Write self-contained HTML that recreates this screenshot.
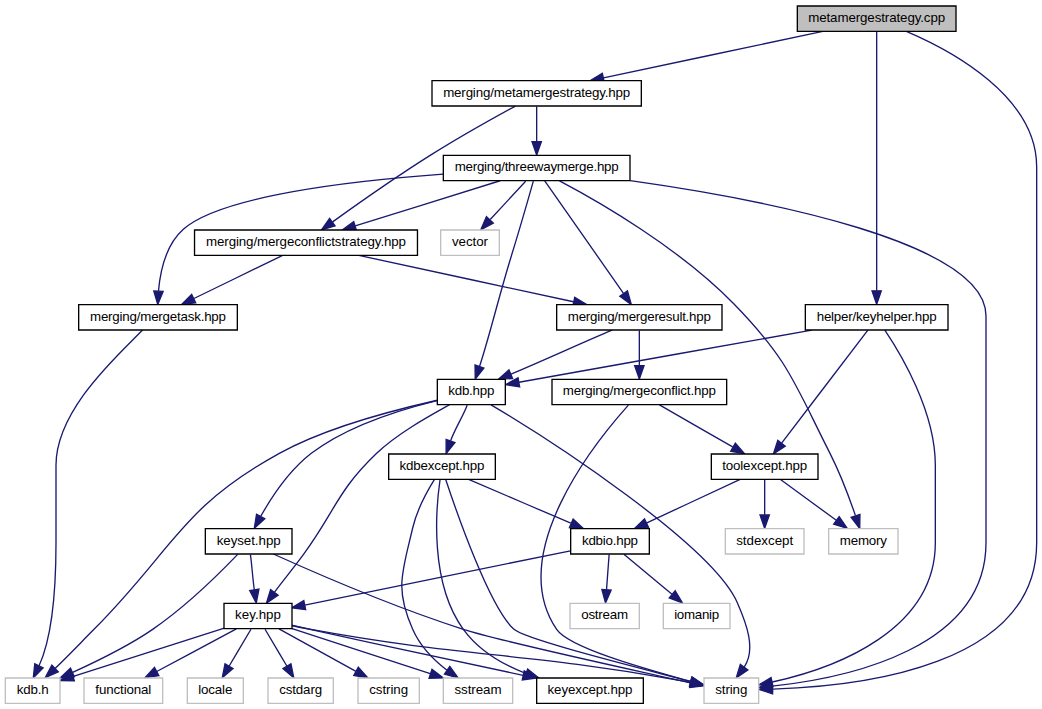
<!DOCTYPE html>
<html lang="en">
<head>
<meta charset="utf-8">
<title>metamergestrategy.cpp include dependency graph</title>
<style>
html,body{margin:0;padding:0;background:#fff}
body{width:1042px;height:709px;overflow:hidden}
svg{display:block}
svg text{font-family:"Liberation Sans",sans-serif;font-size:10px;fill:#000;text-anchor:middle}
.e path{fill:none;stroke:#191970;stroke-width:1}
.e polygon{fill:#191970;stroke:#191970;stroke-width:1}
.n polygon{stroke-width:1}
</style>
</head>
<body>
<svg width="1042" height="709" viewBox="0 0 781.5 531.75">
<rect x="0" y="0" width="781.5" height="531.75" fill="#ffffff"/>
<g transform="translate(4 528)">
<g class="e"><path d="M675.79,-504.5C710.49,-489.63 773.5,-455.43 773.5,-403 773.5,-403 773.5,-403 773.5,-121 773.5,-28.25 641.57,-13.22 575.6,-11.13"/><polygon points="575.47,-7.63 565.39,-10.89 575.3,-14.63"/></g>
<g class="e"><path d="M653.5,-504.3C653.5,-471.63 653.5,-355.87 653.5,-309.96"/><polygon points="657,-309.88 653.5,-299.88 650,-309.88"/></g>
<g class="e"><path d="M613.09,-504.44C568.52,-495 496.73,-479.8 448.61,-469.61"/><polygon points="449.22,-466.16 438.72,-467.52 447.77,-473.01"/></g>
<g class="e"><path d="M659.62,-280.35C671.71,-262.38 697.5,-219.31 697.5,-179 697.5,-179 697.5,-179 697.5,-121 697.5,-55.77 623.97,-27.22 575.24,-16.51"/><polygon points="575.73,-13.04 565.22,-14.44 574.3,-19.89"/></g>
<g class="e"><path d="M604.85,-280.44C542.91,-269.55 440.32,-250.98 385.27,-241.29"/><polygon points="385.74,-237.82 375.28,-239.54 384.53,-244.71"/></g>
<g class="e"><path d="M646.91,-280.37C632.98,-262.14 600.37,-219.43 582.23,-195.68"/><polygon points="584.91,-193.41 576.06,-187.59 579.35,-197.66"/></g>
<g class="e"><path d="M364.28,-224.36C408.24,-198.3 529.87,-119.53 549,-76 556.08,-59.89 563.04,-40.98 554.15,-27.72"/><polygon points="556.91,-25.56 548.19,-19.54 551.26,-29.69"/></g>
<g class="e"><path d="M346.36,-224.08C343.82,-216.85 337.14,-206.41 333.97,-197.4"/><polygon points="337.2,-196.02 330.58,-187.75 330.6,-198.35"/></g>
<g class="e"><path d="M333.21,-224.45C318.65,-216.31 294.23,-203.09 278.5,-188 248.41,-159.14 248.05,-145.7 223.5,-112 216.71,-102.68 208.11,-92.31 201.91,-83.87"/><polygon points="204.59,-81.6 195.84,-75.61 198.94,-85.75"/></g>
<g class="e"><path d="M323.97,-227.83C295.15,-221.31 242.47,-208.42 205.5,-188 130.92,-146.81 126.58,-116.4 66.5,-56 56.64,-46.09 46.33,-35.24 37.28,-26.68"/><polygon points="39.67,-24.14 29.99,-19.83 34.88,-29.23"/></g>
<g class="e"><path d="M323.65,-227.6C298.41,-221.35 256.92,-209.11 229.5,-188 213,-175.3 199.74,-155.27 191.57,-140.8"/><polygon points="194.56,-138.97 186.74,-131.82 188.4,-142.29"/></g>
<g class="e"><path d="M330.35,-168.23C338.66,-143.17 363.41,-72 381.5,-56 390.37,-48.15 473.65,-27.55 514.04,-16.88"/><polygon points="515.14,-20.21 523.93,-14.28 513.37,-13.44"/></g>
<g class="e"><path d="M326.05,-168.37C322.97,-147.01 317.96,-90.88 343.5,-56 355.06,-40.21 372.57,-29.77 390.27,-22.97"/><polygon points="391.71,-26.18 399.97,-19.55 389.38,-19.57"/></g>
<g class="e"><path d="M321.86,-168.48C316.45,-159.74 308.64,-145.56 305.5,-132 297.89,-99.09 291.76,-86.86 305.5,-56 311.07,-43.5 321.02,-33.01 331.25,-25.32"/><polygon points="333.35,-28.12 339.55,-19.53 329.34,-22.38"/></g>
<g class="e"><path d="M347.47,-168.44C368.11,-159.6 400.56,-145.69 424.13,-135.59"/><polygon points="425.82,-138.67 433.63,-131.52 423.06,-132.24"/></g>
<g class="e"><path d="M423.84,-114.91C374.98,-104.88 276.77,-84.92 224.57,-74.2"/><polygon points="225.26,-70.77 214.76,-72.19 223.85,-77.63"/></g>
<g class="e"><path d="M463.94,-112.32C473.65,-104.26 488.32,-92.08 500,-82.37"/><polygon points="502.41,-84.92 507.87,-75.83 497.94,-79.53"/></g>
<g class="e"><path d="M452.84,-112.08C452.32,-105.01 451.56,-94.86 450.91,-85.99"/><polygon points="454.38,-85.47 450.15,-75.75 447.4,-85.98"/></g>
<g class="e"><path d="M214.61,-58.86C219.21,-57.83 224.8,-56.73 229.31,-55.9 343.6,-34.81 389.02,-38.9 503.37,-18.13 506.42,-17.58 510.73,-16.82 513.89,-16.16"/><polygon points="514.78,-19.55 523.81,-14 513.29,-12.71"/></g>
<g class="e"><path d="M214.66,-59.13C219.26,-58.08 224.02,-57 228.5,-56 283.09,-43.85 345.79,-30.49 388.36,-21.51"/><polygon points="389.14,-24.93 398.2,-19.44 387.69,-18.08"/></g>
<g class="e"><path d="M214.56,-56.8C242.3,-47.72 287.24,-33.01 318.69,-22.72"/><polygon points="319.97,-25.98 328.39,-19.55 317.79,-19.33"/></g>
<g class="e"><path d="M194.78,-56.08C199.21,-48.61 205.66,-37.72 211.12,-28.52"/><polygon points="214.23,-30.14 216.31,-19.75 208.21,-26.57"/></g>
<g class="e"><path d="M205.25,-56.32C220.82,-47.74 244.88,-34.49 262.96,-24.52"/><polygon points="264.72,-27.55 271.79,-19.65 261.35,-21.42"/></g>
<g class="e"><path d="M173.27,-56.32C157.15,-47.7 132.2,-34.36 113.54,-24.39"/><polygon points="115.16,-21.28 104.69,-19.65 111.86,-27.46"/></g>
<g class="e"><path d="M184.22,-56.08C179.79,-48.61 173.34,-37.72 167.88,-28.52"/><polygon points="170.79,-26.57 162.69,-19.75 164.77,-30.14"/></g>
<g class="e"><path d="M164.2,-56.92C133.95,-47.25 83.38,-31.09 51,-20.75"/><polygon points="51.77,-17.32 41.18,-17.61 49.64,-23.98"/></g>
<g class="e"><path d="M201.01,-112.5C230.63,-99.13 290.7,-72.98 343.5,-56 372.05,-46.82 469.07,-26.04 513.84,-15.89"/><polygon points="514.88,-19.24 523.86,-13.62 513.33,-12.42"/></g>
<g class="e"><path d="M183.82,-112.08C184.88,-104.93 185.41,-94.64 186.73,-85.69"/><polygon points="190.2,-86.16 188.2,-75.75 183.28,-85.13"/></g>
<g class="e"><path d="M174.27,-112.19C161.5,-98.88 135.77,-73.34 110.5,-56 91.95,-43.27 68.3,-31.87 50.49,-23.73"/><polygon points="51.71,-20.44 41.16,-19.56 48.86,-26.83"/></g>
<g class="e"><path d="M551.12,-168.44C532.28,-159.68 502.77,-145.94 481.12,-135.86"/><polygon points="482.34,-132.56 471.79,-131.52 479.38,-138.91"/></g>
<g class="e"><path d="M581.39,-168.32C592.65,-160.11 609.79,-147.6 623.21,-137.81"/><polygon points="625.38,-140.56 631.39,-131.83 621.25,-134.9"/></g>
<g class="e"><path d="M569.5,-168.08C569.5,-161.01 569.5,-150.86 569.5,-141.99"/><polygon points="573,-141.75 569.5,-131.75 566,-141.75"/></g>
<g class="e"><path d="M382.52,-448.43C366.39,-439.66 340.88,-425.44 319.5,-412 293.37,-395.57 264.29,-375.11 245.49,-361.58"/><polygon points="247.3,-358.57 237.15,-355.55 243.2,-364.24"/></g>
<g class="e"><path d="M398.5,-448.08C398.5,-441.01 398.5,-430.86 398.5,-421.99"/><polygon points="402,-421.75 398.5,-411.75 395,-421.75"/></g>
<g class="e"><path d="M265.11,-336.44C308.73,-327.02 378.9,-311.87 426.08,-301.68"/><polygon points="427.04,-305.05 436.07,-299.52 425.56,-298.21"/></g>
<g class="e"><path d="M207.67,-336.32C189.78,-327.62 162.02,-314.12 141.45,-304.11"/><polygon points="142.81,-300.88 132.29,-299.65 139.75,-307.18"/></g>
<g class="e"><path d="M455.06,-280.44C433.83,-271.56 403.4,-257.56 379.25,-247.45"/><polygon points="380.42,-244.15 369.84,-243.52 377.72,-250.61"/></g>
<g class="e"><path d="M475.5,-280.08C475.5,-273.01 475.5,-262.86 475.5,-253.99"/><polygon points="479,-253.75 475.5,-243.75 472,-253.75"/></g>
<g class="e"><path d="M467.28,-224.16C443.01,-196.97 374.74,-112.97 413.5,-56 423.23,-41.7 483.6,-25.41 513.94,-16.88"/><polygon points="514.95,-20.24 523.67,-14.22 513.1,-13.49"/></g>
<g class="e"><path d="M490.6,-224.32C505.4,-215.82 528.19,-202.73 545.48,-192.8"/><polygon points="547.51,-195.67 554.43,-187.65 544.02,-189.6"/></g>
<g class="e"><path d="M102.9,-280.47C86.31,-263.04 38,-221.42 38,-179 38,-179 38,-179 38,-121 38,-87.25 35.07,-50.03 25.29,-28.69"/><polygon points="28.41,-27.1 20.95,-19.58 22.09,-30.11"/></g>
<g class="e"><path d="M468.74,-392.49C567.5,-378.54 735.5,-346.62 735.5,-291 735.5,-291 735.5,-291 735.5,-121 735.5,-42.08 632.71,-19.6 575.11,-13.35"/><polygon points="575.4,-9.86 565.1,-12.36 574.71,-16.82"/></g>
<g class="e"><path d="M396.01,-392.14C392.46,-379.61 385.69,-355.99 379.5,-336 370.53,-307.01 362.46,-273.56 355.69,-253.36"/><polygon points="358.92,-251.98 352.42,-243.62 352.28,-254.21"/></g>
<g class="e"><path d="M415.65,-392.28C445.02,-376.74 505.72,-341.92 546.5,-300 587.76,-257.58 591.74,-240.78 618.5,-188 626.19,-172.84 632.97,-154.72 637.53,-141.47"/><polygon points="640.96,-142.25 640.8,-131.65 634.32,-140.03"/></g>
<g class="e"><path d="M371.09,-392.44C341.73,-383.28 294.98,-368.69 262.4,-358.52"/><polygon points="263.37,-355.16 252.78,-355.52 261.29,-361.84"/></g>
<g class="e"><path d="M404.54,-392.37C417.25,-374.22 446.94,-331.8 463.61,-307.99"/><polygon points="466.62,-309.79 469.49,-299.59 460.88,-305.78"/></g>
<g class="e"><path d="M328.34,-397.37C259.75,-392.41 161.65,-381.05 133.5,-356 120.48,-344.41 116.17,-324.46 114.85,-309.7"/><polygon points="118.34,-309.46 114.32,-299.66 111.35,-309.83"/></g>
<g class="e"><path d="M390.24,-392.08C383.04,-384.3 372.39,-372.8 363.65,-363.37"/><polygon points="365.97,-360.71 356.6,-355.75 360.83,-365.47"/></g>
<g class="n"><polygon fill="#bfbfbf" stroke="#000000" points="594,-504.5 594,-523.5 713,-523.5 713,-504.5"/><text x="653.5" y="-511.5" textLength="102.75" lengthAdjust="spacing">metamergestrategy.cpp</text></g>
<g class="n"><polygon fill="#ffffff" stroke="#bfbfbf" points="524,-0.5 524,-19.5 565,-19.5 565,-0.5"/><text x="544.5" y="-7.5" textLength="24" lengthAdjust="spacing">string</text></g>
<g class="n"><polygon fill="#ffffff" stroke="#000000" points="600,-280.5 600,-299.5 707,-299.5 707,-280.5"/><text x="653.5" y="-287.5" textLength="90" lengthAdjust="spacing">helper/keyhelper.hpp</text></g>
<g class="n"><polygon fill="#ffffff" stroke="#000000" points="320,-448.5 320,-467.5 477,-467.5 477,-448.5"/><text x="398.5" y="-455.5" textLength="140.25" lengthAdjust="spacing">merging/metamergestrategy.hpp</text></g>
<g class="n"><polygon fill="#ffffff" stroke="#000000" points="324,-224.5 324,-243.5 375,-243.5 375,-224.5"/><text x="349.5" y="-231.5" textLength="34.5" lengthAdjust="spacing">kdb.hpp</text></g>
<g class="n"><polygon fill="#ffffff" stroke="#000000" points="529.5,-168.5 529.5,-187.5 609.5,-187.5 609.5,-168.5"/><text x="569.5" y="-175.5" textLength="63.75" lengthAdjust="spacing">toolexcept.hpp</text></g>
<g class="n"><polygon fill="#ffffff" stroke="#000000" points="287.5,-168.5 287.5,-187.5 367.5,-187.5 367.5,-168.5"/><text x="327.5" y="-175.5" textLength="63.75" lengthAdjust="spacing">kdbexcept.hpp</text></g>
<g class="n"><polygon fill="#ffffff" stroke="#000000" points="164,-56.5 164,-75.5 215,-75.5 215,-56.5"/><text x="189.5" y="-63.5" textLength="34.5" lengthAdjust="spacing">key.hpp</text></g>
<g class="n"><polygon fill="#ffffff" stroke="#bfbfbf" points="0,-0.5 0,-19.5 41,-19.5 41,-0.5"/><text x="20.5" y="-7.5" textLength="24" lengthAdjust="spacing">kdb.h</text></g>
<g class="n"><polygon fill="#ffffff" stroke="#000000" points="150,-112.5 150,-131.5 215,-131.5 215,-112.5"/><text x="182.5" y="-119.5" textLength="48" lengthAdjust="spacing">keyset.hpp</text></g>
<g class="n"><polygon fill="#ffffff" stroke="#000000" points="398.5,-0.5 398.5,-19.5 478.5,-19.5 478.5,-0.5"/><text x="438.5" y="-7.5" textLength="63.75" lengthAdjust="spacing">keyexcept.hpp</text></g>
<g class="n"><polygon fill="#ffffff" stroke="#bfbfbf" points="328.5,-0.5 328.5,-19.5 380.5,-19.5 380.5,-0.5"/><text x="354.5" y="-7.5" textLength="35.25" lengthAdjust="spacing">sstream</text></g>
<g class="n"><polygon fill="#ffffff" stroke="#000000" points="424,-112.5 424,-131.5 483,-131.5 483,-112.5"/><text x="453.5" y="-119.5" textLength="42" lengthAdjust="spacing">kdbio.hpp</text></g>
<g class="n"><polygon fill="#ffffff" stroke="#bfbfbf" points="493.5,-56.5 493.5,-75.5 543.5,-75.5 543.5,-56.5"/><text x="518.5" y="-63.5" textLength="33.75" lengthAdjust="spacing">iomanip</text></g>
<g class="n"><polygon fill="#ffffff" stroke="#bfbfbf" points="423.5,-56.5 423.5,-75.5 475.5,-75.5 475.5,-56.5"/><text x="449.5" y="-63.5" textLength="35.25" lengthAdjust="spacing">ostream</text></g>
<g class="n"><polygon fill="#ffffff" stroke="#bfbfbf" points="197,-0.5 197,-19.5 246,-19.5 246,-0.5"/><text x="221.5" y="-7.5" textLength="32.25" lengthAdjust="spacing">cstdarg</text></g>
<g class="n"><polygon fill="#ffffff" stroke="#bfbfbf" points="264.5,-0.5 264.5,-19.5 310.5,-19.5 310.5,-0.5"/><text x="287.5" y="-7.5" textLength="29.25" lengthAdjust="spacing">cstring</text></g>
<g class="n"><polygon fill="#ffffff" stroke="#bfbfbf" points="59,-0.5 59,-19.5 118,-19.5 118,-0.5"/><text x="88.5" y="-7.5" textLength="42" lengthAdjust="spacing">functional</text></g>
<g class="n"><polygon fill="#ffffff" stroke="#bfbfbf" points="136.5,-0.5 136.5,-19.5 178.5,-19.5 178.5,-0.5"/><text x="157.5" y="-7.5" textLength="25.5" lengthAdjust="spacing">locale</text></g>
<g class="n"><polygon fill="#ffffff" stroke="#bfbfbf" points="617.5,-112.5 617.5,-131.5 669.5,-131.5 669.5,-112.5"/><text x="643.5" y="-119.5" textLength="35.25" lengthAdjust="spacing">memory</text></g>
<g class="n"><polygon fill="#ffffff" stroke="#bfbfbf" points="540,-112.5 540,-131.5 599,-131.5 599,-112.5"/><text x="569.5" y="-119.5" textLength="42.75" lengthAdjust="spacing">stdexcept</text></g>
<g class="n"><polygon fill="#ffffff" stroke="#000000" points="141.9,-336.5 141.9,-355.5 309.1,-355.5 309.1,-336.5"/><text x="225.5" y="-343.5" textLength="150" lengthAdjust="spacing">merging/mergeconflictstrategy.hpp</text></g>
<g class="n"><polygon fill="#ffffff" stroke="#000000" points="328.5,-392.5 328.5,-411.5 468.5,-411.5 468.5,-392.5"/><text x="398.5" y="-399.5" textLength="123" lengthAdjust="spacing">merging/threewaymerge.hpp</text></g>
<g class="n"><polygon fill="#ffffff" stroke="#000000" points="413.5,-280.5 413.5,-299.5 537.5,-299.5 537.5,-280.5"/><text x="475.5" y="-287.5" textLength="107.25" lengthAdjust="spacing">merging/mergeresult.hpp</text></g>
<g class="n"><polygon fill="#ffffff" stroke="#000000" points="55,-280.5 55,-299.5 174,-299.5 174,-280.5"/><text x="114.5" y="-287.5" textLength="102" lengthAdjust="spacing">merging/mergetask.hpp</text></g>
<g class="n"><polygon fill="#ffffff" stroke="#000000" points="410,-224.5 410,-243.5 541,-243.5 541,-224.5"/><text x="475.5" y="-231.5" textLength="114.75" lengthAdjust="spacing">merging/mergeconflict.hpp</text></g>
<g class="n"><polygon fill="#ffffff" stroke="#bfbfbf" points="326.5,-336.5 326.5,-355.5 370.5,-355.5 370.5,-336.5"/><text x="348.5" y="-343.5" textLength="27" lengthAdjust="spacing">vector</text></g>
</g>
</svg>
</body>
</html>
